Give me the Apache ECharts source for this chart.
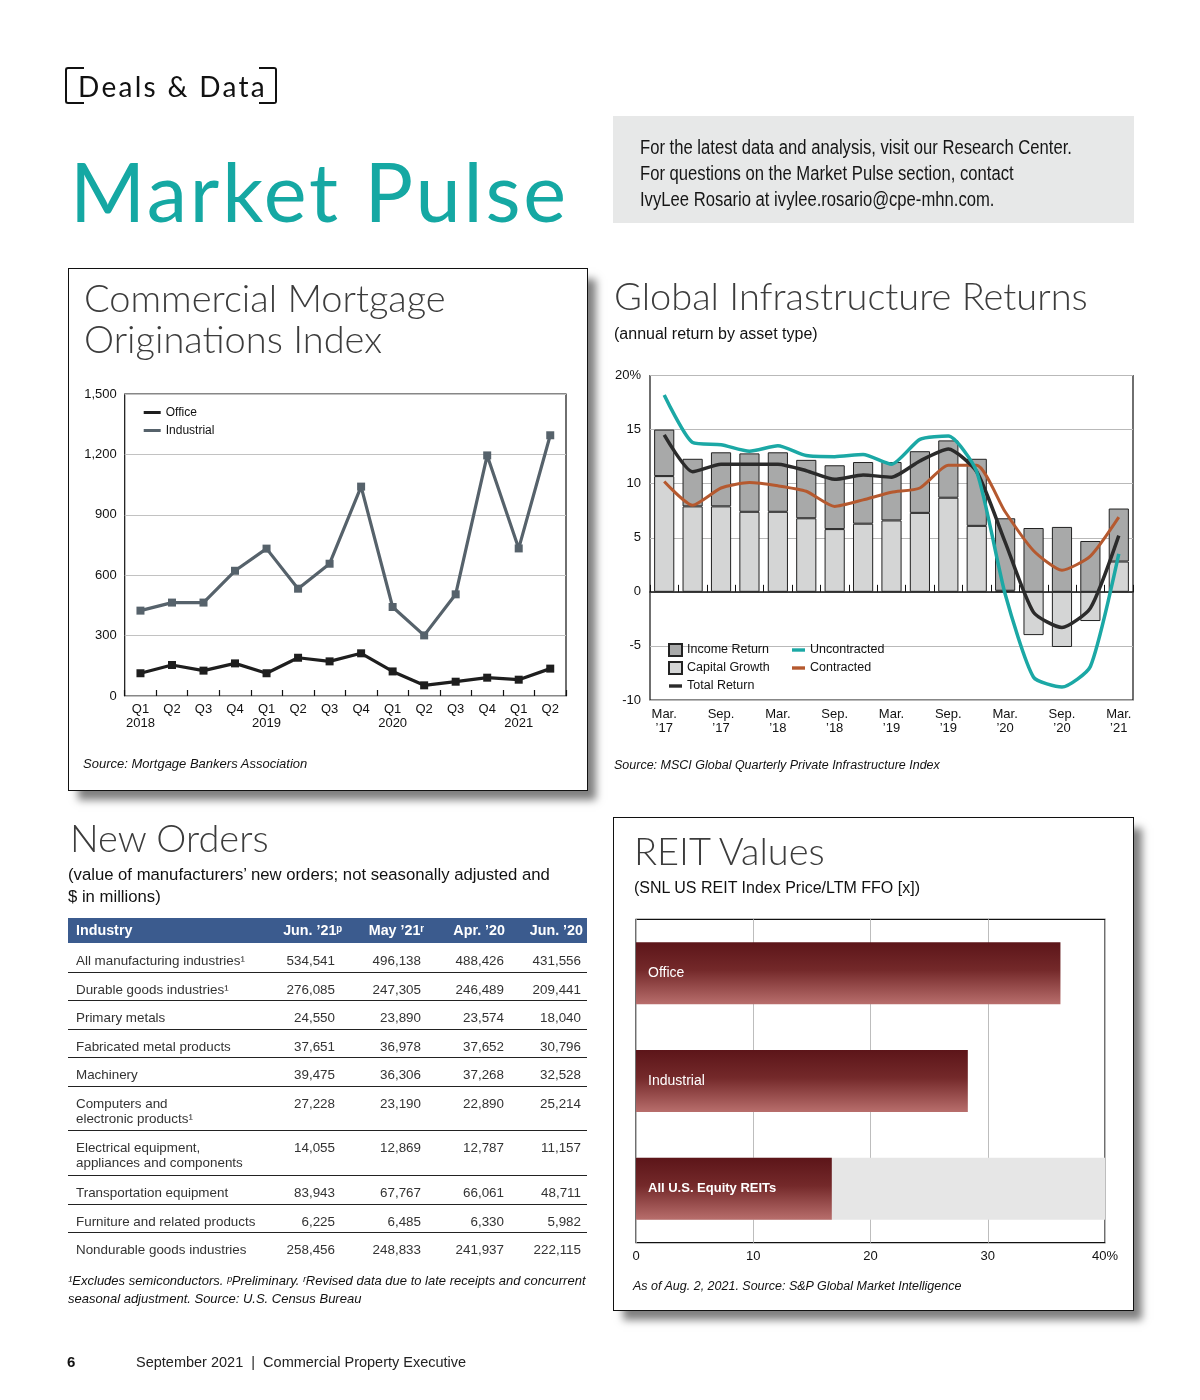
<!DOCTYPE html>
<html>
<head>
<meta charset="utf-8">
<script src="https://cdn.jsdelivr.net/npm/echarts@6/dist/echarts.min.js"></script>
<style>
  html, body { margin:0; padding:0; background:#fff; }
  body { width:1200px; height:1400px; position:relative; overflow:hidden; font-family:'Liberation Sans', Arial, sans-serif; color:#222; }
  .abs { position:absolute; white-space:nowrap; z-index:2; }
  .frame { position:absolute; background:#fff; border:1.5px solid #111; box-shadow:9px 10px 8px -1px rgba(0,0,0,0.5); z-index:0; box-sizing:border-box; }
  #chart { position:absolute; left:0; top:0; width:1200px; height:1400px; z-index:1; }
  .title { font-family:'Lato', sans-serif; font-weight:300; font-size:38px; color:#3c3c3c; letter-spacing:0px; line-height:40.7px; }
  .sub { font-size:16px; line-height:20px; color:#111; }
  .src { font-size:12.5px; line-height:18.3px; font-style:italic; color:#111; }
  .bracket { position:absolute; border:2px solid #111; z-index:2; box-sizing:border-box; height:37px; }
  #table { position:absolute; left:68px; top:918px; width:519px; z-index:2; }
  .thead { position:relative; height:24.5px; background:#3b5b8e; color:#fff; font-weight:bold; font-size:14.3px; line-height:24.5px; }
  .thead span { position:absolute; top:0; }
  .row { position:relative; border-bottom:1px solid #222; padding-top:9px; padding-bottom:3.6px; line-height:15px; font-size:13.4px; color:#333; }
  .row.last { border-bottom:none; }
  .row .name { padding-left:8px; white-space:pre; }
  .row .num { position:absolute; top:9px; }
  .info { display:inline-block; transform:scaleX(0.832); transform-origin:0 0; }
</style>
</head>
<body>
<div class="bracket" style="left:65px; top:67px; width:19px; border-right:none; border-radius:3px 0 0 3px;"></div>
<div class="bracket" style="left:259px; top:67px; width:18px; border-left:none; border-radius:0 3px 3px 0;"></div>
<div class="abs" style="left:78px; top:72px; font-family:'Lato'; font-size:28px; line-height:28px; letter-spacing:2.3px; color:#111;">Deals &amp; Data</div>
<div class="abs" style="left:70px; top:150px; font-family:'Lato'; font-size:81px; line-height:81px; letter-spacing:2.8px; color:#15a8a3;">Market Pulse</div>

<div class="abs" style="left:613px; top:116px; width:521px; height:107px; background:#e7e8e8; z-index:1;"></div>
<div class="abs" style="left:640px; top:134px; font-size:20px; line-height:26px; color:#151515;"><span class="info">For the latest data and analysis, visit our Research Center.<br>For questions on the Market Pulse section, contact<br>IvyLee Rosario at ivylee.rosario@cpe-mhn.com.</span></div>

<div class="frame" style="left:68px; top:268px; width:519.5px; height:523px;"></div>
<div class="abs title" style="left:84px; top:277px;">Commercial Mortgage<br>Originations Index</div>
<div class="abs src" style="left:83px; top:755px; font-size:13px;">Source: Mortgage Bankers Association</div>

<div class="abs title" style="left:614px; top:275px;">Global Infrastructure Returns</div>
<div class="abs sub" style="left:614px; top:324px;">(annual return by asset type)</div>
<div class="abs src" style="left:614px; top:756px;">Source: MSCI Global Quarterly Private Infrastructure Index</div>

<div class="abs title" style="left:70px; top:817px;">New Orders</div>
<div class="abs sub" style="left:68px; top:864px; line-height:22px; font-size:16.7px;">(value of manufacturers’ new orders; not seasonally adjusted and<br>$ in millions)</div>
<div id="table"></div>
<div class="abs src" style="left:68px; top:1272px; font-size:13px;">¹Excludes semiconductors. ᵖPreliminary. ʳRevised data due to late receipts and concurrent<br>seasonal adjustment. Source: U.S. Census Bureau</div>

<div class="frame" style="left:613px; top:817px; width:520.5px; height:494px;"></div>
<div class="abs title" style="left:634px; top:830px;">REIT Values</div>
<div class="abs sub" style="left:634px; top:878px;">(SNL US REIT Index Price/LTM FFO [x])</div>
<div class="abs src" style="left:633px; top:1277px;">As of Aug. 2, 2021. Source: S&amp;P Global Market Intelligence</div>

<div class="abs" style="left:67px; top:1353px; font-size:15px; line-height:18px; font-weight:bold; color:#111;">6</div>
<div class="abs" style="left:136px; top:1353px; font-size:14.5px; line-height:18px; color:#222;">September 2021 &nbsp;|&nbsp; Commercial Property Executive</div>

<div id="chart"></div>
<script>
// ---------- Commercial Mortgage Originations Index ----------
const mortgagePeriods = ['2018 Q1','2018 Q2','2018 Q3','2018 Q4','2019 Q1','2019 Q2','2019 Q3','2019 Q4','2020 Q1','2020 Q2','2020 Q3','2020 Q4','2021 Q1','2021 Q2'];
const officeValues = [113, 154, 126, 162, 113, 190, 172, 212, 122, 53, 71, 91, 81, 136];
const industrialValues = [424, 464, 464, 622, 732, 533, 657, 1040, 442, 301, 505, 1195, 733, 1295];

// ---------- Global Infrastructure Returns ----------
const infraPeriods = ['Mar. ’17','Jun. ’17','Sep. ’17','Dec. ’17','Mar. ’18','Jun. ’18','Sep. ’18','Dec. ’18','Mar. ’19','Jun. ’19','Sep. ’19','Dec. ’19','Mar. ’20','Jun. ’20','Sep. ’20','Dec. ’20','Mar. ’21'];
const capitalGrowth = [10.7, 7.9, 7.9, 7.4, 7.4, 6.8, 5.8, 6.3, 6.6, 7.3, 8.7, 6.1, 0.1, -4.0, -5.1, -2.7, 2.8];
const incomeReturn = [4.3, 4.4, 5.0, 5.4, 5.5, 5.4, 5.9, 5.7, 5.4, 5.7, 5.3, 6.2, 6.7, 5.9, 6.0, 4.7, 4.9];
const totalReturn = [14.5, 11.1, 11.8, 11.8, 11.8, 11.2, 10.4, 10.8, 10.6, 12.1, 13.2, 11.1, 4.6, -1.9, -3.3, -1.5, 5.2];
const uncontracted = [18.2, 13.8, 13.6, 13.0, 13.5, 12.6, 12.5, 12.7, 11.8, 14.1, 14.4, 11.1, -0.2, -7.9, -8.8, -6.9, 3.5];
const contracted = [10.2, 8.0, 9.6, 10.1, 9.8, 9.3, 7.9, 8.5, 9.2, 9.6, 11.7, 11.7, 7.4, 3.8, 2.0, 3.3, 6.9];

// ---------- REIT Values ----------
const reitCategories = ['Office', 'Industrial', 'All U.S. Equity REITs'];
const reitValues = [36.2, 28.3, 16.7];
const reitHighlight = [null, null, 40];

// ---------- New Orders table ----------
const tableHeaders = ['Industry', 'Jun. ’21ᵖ', 'May ’21ʳ', 'Apr. ’20', 'Jun. ’20'];
const industries = ['All manufacturing industries¹', 'Durable goods industries¹', 'Primary metals', 'Fabricated metal products', 'Machinery', 'Computers and\nelectronic products¹', 'Electrical equipment,\nappliances and components', 'Transportation equipment', 'Furniture and related products', 'Nondurable goods industries'];
const ordersJun21 = [534541, 276085, 24550, 37651, 39475, 27228, 14055, 83943, 6225, 258456];
const ordersMay21 = [496138, 247305, 23890, 36978, 36306, 23190, 12869, 67767, 6485, 248833];
const ordersApr20 = [488426, 246489, 23574, 37652, 37268, 22890, 12787, 66061, 6330, 241937];
const ordersJun20 = [431556, 209441, 18040, 30796, 32528, 25214, 11157, 48711, 5982, 222115];

// build table
(function () {
  const fmt = v => v.toLocaleString('en-US');
  const headRight = [null, 245, 163, 82, 4];
  const numRight = [252, 166, 83, 6];
  const t = document.getElementById('table');
  let h = '<div class="thead">';
  tableHeaders.forEach((txt, i) => {
    h += i === 0 ? '<span style="left:8px">' + txt + '</span>' : '<span style="right:' + headRight[i] + 'px">' + txt + '</span>';
  });
  h += '</div>';
  const cols = [ordersJun21, ordersMay21, ordersApr20, ordersJun20];
  industries.forEach((name, r) => {
    const two = name.indexOf('\n') >= 0;
    let style = '';
    if (r === 0) style = 'padding-top:10.5px;';
    if (two) style += 'padding-bottom:4.5px;';
    h += '<div class="row' + (r === industries.length - 1 ? ' last' : '') + '" style="' + style + '"><div class="name">' + name + '</div>';
    cols.forEach((c, ci) => {
      h += '<span class="num" style="right:' + numRight[ci] + 'px;' + (r === 0 ? 'top:10.5px;' : '') + '">' + fmt(c[r]) + '</span>';
    });
    h += '</div>';
  });
  t.innerHTML = h;
})();

const chart = echarts.init(document.getElementById('chart'), null, { renderer: 'canvas' });
const axisFont = { color: '#111', fontSize: 13, fontFamily: 'Liberation Sans, Arial, sans-serif' };
const lineIcon = 'path://M0,0 L13,0 L13,3.4 L0,3.4 Z';

const option = {
  animation: false,
  backgroundColor: 'transparent',
  textStyle: { fontFamily: 'Liberation Sans, Arial, sans-serif' },
  grid: [
    { left: 124.7, top: 394, width: 441.3, height: 302, show: true, borderColor: '#111', borderWidth: 1.2 },
    { left: 650, top: 375.5, width: 483, height: 324.5, show: true, borderColor: '#111', borderWidth: 1.2 },
    { left: 636, top: 919.3, width: 469, height: 323.4, show: true, borderColor: '#111', borderWidth: 1.2 }
  ],
  legend: [
    { data: ['Office', 'Industrial'], orient: 'vertical', left: 138.7, top: 400.5, icon: 'rect', itemWidth: 17, itemHeight: 3, itemGap: 4,
      textStyle: { fontSize: 12, color: '#111', lineHeight: 14 } },
    { data: [{ name: 'Income Return', icon: 'rect' }, { name: 'Capital Growth', icon: 'rect' }, { name: 'Total Return', icon: lineIcon }],
      orient: 'vertical', left: 663, top: 638, symbolKeepAspect: true,
      itemWidth: 13, itemHeight: 12, itemGap: 4, textStyle: { fontSize: 12.5, color: '#111', lineHeight: 14 } },
    { data: [{ name: 'Uncontracted', icon: lineIcon }, { name: 'Contracted', icon: lineIcon }],
      orient: 'vertical', left: 787, top: 638, symbolKeepAspect: true,
      itemWidth: 13, itemHeight: 12, itemGap: 4, textStyle: { fontSize: 12.5, color: '#111', lineHeight: 14 } }
  ],
  xAxis: [
    { type: 'category', gridIndex: 0, data: mortgagePeriods, boundaryGap: true,
      axisLine: { show: false },
      axisTick: { show: true, inside: true, length: 6, lineStyle: { color: '#111', width: 1.2 } },
      axisLabel: Object.assign({ margin: 6, lineHeight: 14, interval: 0,
        formatter: v => { const p = v.split(' '); return p[1] === 'Q1' ? p[1] + '\n' + p[0] : p[1]; } }, axisFont) },
    { type: 'category', gridIndex: 1, data: infraPeriods, boundaryGap: true, position: 'bottom',
      axisLine: { show: false, onZero: false }, axisTick: { show: false },
      axisLabel: Object.assign({ margin: 7, lineHeight: 14, interval: 1, formatter: v => v.replace(' ', '\n') }, axisFont) },
    { type: 'category', gridIndex: 1, data: infraPeriods, boundaryGap: true, position: 'bottom',
      axisLine: { show: true, onZero: true, lineStyle: { color: '#111', width: 1.5 } },
      axisTick: { show: true, inside: true, length: 7, interval: 0, lineStyle: { color: '#111', width: 1 } },
      axisLabel: { show: false } },
    { type: 'value', gridIndex: 2, min: 0, max: 40, interval: 10,
      axisLine: { show: false }, axisTick: { show: false },
      splitLine: { lineStyle: { color: '#bdbdbd', width: 1 } },
      axisLabel: Object.assign({ margin: 7, formatter: v => v === 40 ? '40%' : String(v) }, axisFont) }
  ],
  yAxis: [
    { type: 'value', gridIndex: 0, min: 0, max: 1500, interval: 300,
      axisLine: { show: false }, axisTick: { show: false },
      splitLine: { lineStyle: { color: '#c2c2c2' } },
      axisLabel: Object.assign({ margin: 8, formatter: v => v.toLocaleString('en-US') }, axisFont) },
    { type: 'value', gridIndex: 1, min: -10, max: 20, interval: 5,
      axisLine: { show: false }, axisTick: { show: false },
      splitLine: { lineStyle: { color: '#b9b9b9' } },
      axisLabel: Object.assign({ margin: 9, formatter: v => v === 20 ? '20%' : String(v) }, axisFont) },
    { type: 'category', gridIndex: 2, data: reitCategories, inverse: true,
      axisLine: { show: false }, axisTick: { show: false }, axisLabel: { show: false }, splitLine: { show: false } }
  ],
  series: [
    { name: 'Office', type: 'line', xAxisIndex: 0, yAxisIndex: 0, data: officeValues,
      symbol: 'rect', symbolSize: 8, color: '#1e1e1e', lineStyle: { width: 3.2 }, z: 4 },
    { name: 'Industrial', type: 'line', xAxisIndex: 0, yAxisIndex: 0, data: industrialValues,
      symbol: 'rect', symbolSize: 8, color: '#56626b', lineStyle: { width: 3.2 }, z: 4 },

    { name: 'Capital Growth', type: 'bar', xAxisIndex: 1, yAxisIndex: 1, stack: 'ret', data: capitalGrowth, barWidth: '71%',
      itemStyle: { color: '#d4d5d5', borderColor: '#222', borderWidth: 1 } },
    { name: 'Income Return', type: 'bar', xAxisIndex: 1, yAxisIndex: 1, stack: 'ret', data: incomeReturn, barWidth: '71%',
      itemStyle: { color: '#a8a9a9', borderColor: '#222', borderWidth: 1 } },
    { name: 'Contracted', type: 'line', xAxisIndex: 1, yAxisIndex: 1, data: contracted, symbol: 'none', smooth: 0.2,
      color: '#b5592f', lineStyle: { width: 3 }, z: 5 },
    { name: 'Total Return', type: 'line', xAxisIndex: 1, yAxisIndex: 1, data: totalReturn, symbol: 'none', smooth: 0.2,
      color: '#2b2b2b', lineStyle: { width: 3.5 }, z: 6 },
    { name: 'Uncontracted', type: 'line', xAxisIndex: 1, yAxisIndex: 1, data: uncontracted, symbol: 'none', smooth: 0.2,
      color: '#1ba8a5', lineStyle: { width: 3.5 }, z: 7 },

    { name: 'band', type: 'bar', xAxisIndex: 3, yAxisIndex: 2, data: reitHighlight, barWidth: 62, barGap: '-100%', silent: true,
      itemStyle: { color: '#e6e6e6' }, z: 1 },
    { name: 'REIT', type: 'bar', xAxisIndex: 3, yAxisIndex: 2, barWidth: 62, barGap: '-100%', z: 3,
      data: reitValues.map((v, i) => ({ value: v, label: i === 2 ? { fontWeight: 'bold', fontSize: 13 } : {} })),
      itemStyle: { color: { type: 'linear', x: 0, y: 0, x2: 0, y2: 1,
        colorStops: [{ offset: 0, color: '#5c1519' }, { offset: 0.45, color: '#74292a' }, { offset: 1, color: '#b86e6c' }] } },
      label: { show: true, position: 'insideLeft', distance: 12, formatter: '{b}', color: '#fff',
        fontFamily: 'Liberation Sans, Arial, sans-serif', fontSize: 14 } }
  ]
};
chart.setOption(option);
</script>
</body>
</html>
